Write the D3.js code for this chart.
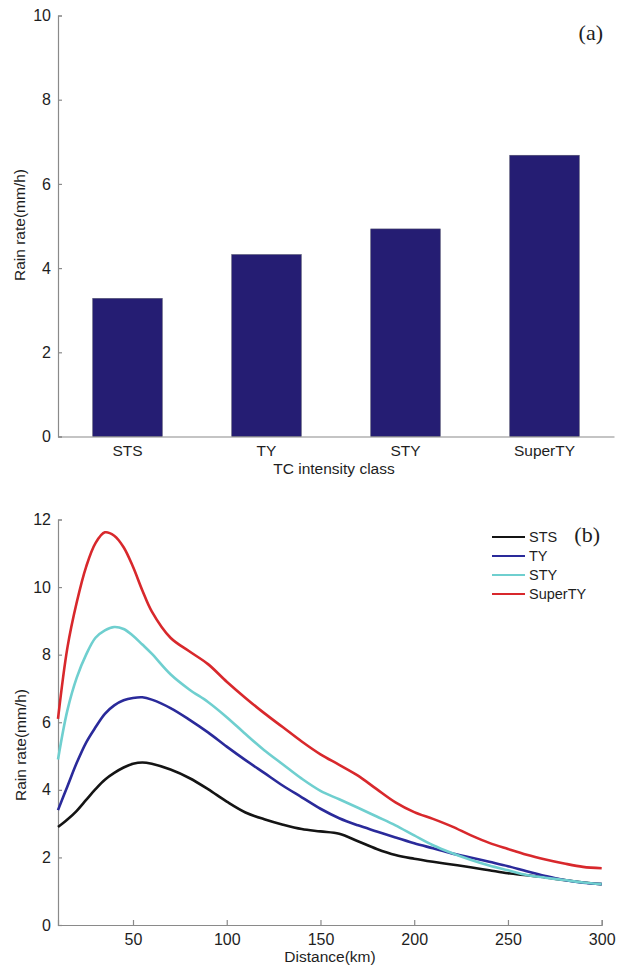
<!DOCTYPE html>
<html>
<head>
<meta charset="utf-8">
<script src="https://cdn.jsdelivr.net/npm/d3@7"></script>
<style>
  html, body { margin: 0; padding: 0; background: #fff; }
  svg { display: block; }
  text { font-family: "Liberation Sans", Arial, sans-serif; fill: #1e1e1e; }
</style>
</head>
<body>
<svg id="chart" width="617" height="965"></svg>
<script>
// ---- Panel (a) data ----
const classes = ["STS", "TY", "STY", "SuperTY"];
const meanRain = [3.28, 4.32, 4.93, 6.68];
const yTicksA = [0, 2, 4, 6, 8, 10];

// ---- Panel (b) data ----
const distance = [10,15,20,25,30,35,40,45,50,55,60,70,80,90,100,110,120,130,140,150,160,170,180,190,200,210,220,230,240,250,260,270,280,290,300];
const rateSTS = [2.9,3.12,3.38,3.7,4.02,4.3,4.5,4.66,4.77,4.81,4.77,4.6,4.35,4.02,3.65,3.33,3.13,2.97,2.84,2.77,2.7,2.48,2.25,2.07,1.96,1.87,1.79,1.71,1.62,1.53,1.47,1.41,1.33,1.26,1.21];
const rateTY = [3.4,4.1,4.8,5.4,5.85,6.25,6.5,6.65,6.72,6.74,6.67,6.42,6.08,5.7,5.28,4.88,4.5,4.12,3.78,3.44,3.16,2.95,2.77,2.59,2.42,2.27,2.12,2.0,1.87,1.74,1.59,1.45,1.33,1.25,1.21];
const rateSTY = [4.9,6.35,7.32,8.0,8.5,8.72,8.82,8.76,8.56,8.3,8.03,7.42,6.97,6.6,6.15,5.65,5.17,4.75,4.33,3.97,3.72,3.47,3.21,2.95,2.65,2.36,2.13,1.93,1.76,1.62,1.48,1.4,1.33,1.26,1.21];
const rateSuperTY = [6.1,8.2,9.55,10.6,11.3,11.62,11.52,11.18,10.6,9.9,9.28,8.5,8.1,7.72,7.2,6.72,6.27,5.85,5.43,5.05,4.74,4.42,4.02,3.63,3.34,3.14,2.92,2.66,2.43,2.25,2.08,1.94,1.82,1.72,1.68];
const seriesNames = ["STS", "TY", "STY", "SuperTY"];
const seriesColors = ["#141414", "#2a2a9a", "#6fcfcf", "#d8282c"];
const xTicksB = [50, 100, 150, 200, 250, 300];
const yTicksB = [0, 2, 4, 6, 8, 10, 12];

const svg = d3.select("#chart");
const axisColor = "#8a8a8a";

function styleAxis(g) {
  g.select(".domain").attr("stroke", axisColor).attr("stroke-width", 1.2);
  g.selectAll(".tick line").attr("stroke", axisColor).attr("stroke-width", 1.2);
  g.selectAll(".tick text").style("font-size", "16px").attr("fill", "#1e1e1e");
}

// ================= Panel (a) =================
const xA = d3.scaleBand().domain(classes).range([58, 614]).paddingInner(0.5).paddingOuter(0.25);
const yA = d3.scaleLinear().domain([0, 10]).range([436.5, 15.5]);

svg.append("g").selectAll("rect").data(classes).join("rect")
  .attr("x", d => xA(d))
  .attr("width", xA.bandwidth())
  .attr("y", (d, i) => yA(meanRain[i]))
  .attr("height", (d, i) => yA(0) - yA(meanRain[i]))
  .attr("fill", "#251d73")
  .attr("stroke", "#4a4a6a")
  .attr("stroke-width", 0.6);

const gyA = svg.append("g").attr("transform", "translate(58,0)")
  .call(d3.axisLeft(yA).tickValues(yTicksA).tickSize(-4).tickPadding(7));
styleAxis(gyA);

const gxA = svg.append("g").attr("transform", `translate(0,${yA(0)})`)
  .call(d3.axisBottom(xA).tickSize(0).tickPadding(8));
styleAxis(gxA);
gxA.selectAll(".tick text").style("font-size", "15.5px");

svg.append("text").attr("x", 334).attr("y", 474).attr("text-anchor", "middle")
  .style("font-size", "15.5px").text("TC intensity class");
svg.append("text").attr("transform", "translate(25,225) rotate(-90)").attr("text-anchor", "middle")
  .style("font-size", "15.5px").text("Rain rate(mm/h)");
svg.append("text").attr("x", 603).attr("y", 40).attr("text-anchor", "end")
  .style("font-family", "'Liberation Serif', 'DejaVu Serif', serif").style("font-size", "22px").text("(a)");

// ================= Panel (b) =================
const xB = d3.scaleLinear().domain([10, 300]).range([58, 601.7]);
const yB = d3.scaleLinear().domain([0, 12]).range([925, 519.5]);

const gyB = svg.append("g").attr("transform", "translate(58,0)")
  .call(d3.axisLeft(yB).tickValues(yTicksB).tickSize(-4).tickPadding(7));
styleAxis(gyB);

const gxB = svg.append("g").attr("transform", `translate(0,${yB(0)})`)
  .call(d3.axisBottom(xB).tickValues(xTicksB).tickSize(-5).tickPadding(9));
styleAxis(gxB);

const allSeries = [rateSTS, rateTY, rateSTY, rateSuperTY];
const line = d3.line().x((d, i) => xB(distance[i])).y(d => yB(d)).curve(d3.curveCatmullRom.alpha(0.5));

svg.append("g").selectAll("path").data(allSeries).join("path")
  .attr("d", d => line(d))
  .attr("fill", "none")
  .attr("stroke", (d, i) => seriesColors[i])
  .attr("stroke-width", 2.6)
  .attr("stroke-linejoin", "round");

svg.append("text").attr("x", 330).attr("y", 962).attr("text-anchor", "middle")
  .style("font-size", "15.5px").text("Distance(km)");
svg.append("text").attr("transform", "translate(26,745) rotate(-90)").attr("text-anchor", "middle")
  .style("font-size", "15.5px").text("Rain rate(mm/h)");

// Legend
const legend = svg.append("g");
seriesNames.forEach((name, i) => {
  const y = 537 + i * 19;
  legend.append("line").attr("x1", 492).attr("x2", 525).attr("y1", y).attr("y2", y)
    .attr("stroke", seriesColors[i]).attr("stroke-width", 2);
  legend.append("text").attr("x", 529).attr("y", y + 5).style("font-size", "14.5px").text(name);
});
svg.append("text").attr("x", 600).attr("y", 542).attr("text-anchor", "end")
  .style("font-family", "'Liberation Serif', 'DejaVu Serif', serif").style("font-size", "22px").text("(b)");
</script>
</body>
</html>
